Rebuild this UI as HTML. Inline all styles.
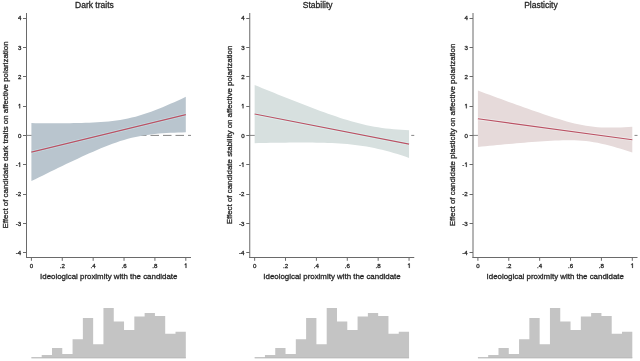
<!DOCTYPE html>
<html><head><meta charset="utf-8"><style>
html,body{margin:0;padding:0;background:#fff;width:640px;height:361px;overflow:hidden}
svg text{font-family:"Liberation Sans",sans-serif;stroke:#2a2a2a;stroke-width:0.3px}
svg{filter:blur(0.35px)}
</style></head><body>
<svg width="640" height="361" viewBox="0 0 640 361" style="position:absolute;left:0;top:0">
<g transform="translate(0.00,0)">
<line x1="26.5" y1="135.4" x2="191" y2="135.4" stroke="#707070" stroke-width="0.85" stroke-dasharray="8.5 4" stroke-dashoffset="1"/>
<path d="M31.40,123.10 L35.26,123.13 L39.12,123.17 L42.98,123.20 L46.84,123.22 L50.70,123.24 L54.56,123.24 L58.42,123.24 L62.28,123.23 L66.14,123.21 L70.00,123.17 L73.86,123.12 L77.72,123.05 L81.58,122.96 L85.44,122.85 L89.30,122.72 L93.16,122.55 L97.02,122.34 L100.88,122.10 L104.74,121.80 L108.60,121.45 L112.46,121.03 L116.32,120.53 L120.18,119.95 L124.04,119.28 L127.90,118.50 L131.76,117.62 L135.62,116.64 L139.48,115.54 L143.34,114.34 L147.20,113.05 L151.06,111.68 L154.92,110.23 L158.78,108.71 L162.64,107.13 L166.50,105.51 L170.36,103.84 L174.22,102.13 L178.08,100.40 L181.94,98.63 L185.80,96.85 L185.80,132.35 L181.94,132.44 L178.08,132.55 L174.22,132.69 L170.36,132.86 L166.50,133.06 L162.64,133.31 L158.78,133.61 L154.92,133.97 L151.06,134.39 L147.20,134.89 L143.34,135.48 L139.48,136.16 L135.62,136.94 L131.76,137.82 L127.90,138.82 L124.04,139.92 L120.18,141.12 L116.32,142.41 L112.46,143.79 L108.60,145.25 L104.74,146.77 L100.88,148.35 L97.02,149.98 L93.16,151.65 L89.30,153.36 L85.44,155.10 L81.58,156.86 L77.72,158.65 L73.86,160.45 L70.00,162.28 L66.14,164.12 L62.28,165.97 L58.42,167.83 L54.56,169.71 L50.70,171.59 L46.84,173.48 L42.98,175.38 L39.12,177.28 L35.26,179.19 L31.40,181.11Z" fill="#b9c5ce"/>
<line x1="31.40" y1="152.10" x2="185.80" y2="114.60" stroke="#c3dbe2" stroke-width="2.8"/>
<line x1="31.40" y1="152.10" x2="185.80" y2="114.60" stroke="#bb5264" stroke-width="1.1"/>
<line x1="26.5" y1="13" x2="26.5" y2="258.0" stroke="#6a6a6a" stroke-width="1"/>
<line x1="26.0" y1="257.5" x2="191" y2="257.5" stroke="#6a6a6a" stroke-width="1"/>
<line x1="23.0" y1="252.50" x2="26.5" y2="252.50" stroke="#6a6a6a" stroke-width="1"/>
<text x="21.30" y="254.80" text-anchor="end" font-size="6.15" fill="#222222">-4</text>
<line x1="23.0" y1="223.50" x2="26.5" y2="223.50" stroke="#6a6a6a" stroke-width="1"/>
<text x="21.30" y="225.50" text-anchor="end" font-size="6.15" fill="#222222">-3</text>
<line x1="23.0" y1="194.50" x2="26.5" y2="194.50" stroke="#6a6a6a" stroke-width="1"/>
<text x="21.30" y="196.20" text-anchor="end" font-size="6.15" fill="#222222">-2</text>
<line x1="23.0" y1="164.50" x2="26.5" y2="164.50" stroke="#6a6a6a" stroke-width="1"/>
<path d="M19.45,162.50 L20.13,162.50 L20.13,166.90 L19.45,166.90Z M19.45,162.50 L18.50,163.54 L18.50,164.10 L19.45,163.42Z" fill="#222222" stroke="#222222" stroke-width="0.25"/>
<text x="17.88" y="166.90" text-anchor="end" font-size="6.15" fill="#222222">-</text>
<line x1="23.0" y1="135.50" x2="26.5" y2="135.50" stroke="#6a6a6a" stroke-width="1"/>
<text x="21.30" y="137.60" text-anchor="end" font-size="6.15" fill="#222222">0</text>
<line x1="23.0" y1="106.50" x2="26.5" y2="106.50" stroke="#6a6a6a" stroke-width="1"/>
<path d="M19.45,103.90 L20.13,103.90 L20.13,108.30 L19.45,108.30Z M19.45,103.90 L18.50,104.94 L18.50,105.50 L19.45,104.82Z" fill="#222222" stroke="#222222" stroke-width="0.25"/>
<line x1="23.0" y1="76.50" x2="26.5" y2="76.50" stroke="#6a6a6a" stroke-width="1"/>
<text x="21.30" y="79.00" text-anchor="end" font-size="6.15" fill="#222222">2</text>
<line x1="23.0" y1="47.50" x2="26.5" y2="47.50" stroke="#6a6a6a" stroke-width="1"/>
<text x="21.30" y="49.70" text-anchor="end" font-size="6.15" fill="#222222">3</text>
<line x1="23.0" y1="18.50" x2="26.5" y2="18.50" stroke="#6a6a6a" stroke-width="1"/>
<text x="21.30" y="20.40" text-anchor="end" font-size="6.15" fill="#222222">4</text>
<line x1="31.40" y1="257.5" x2="31.40" y2="260.8" stroke="#6a6a6a" stroke-width="1"/>
<text x="31.40" y="267.90" text-anchor="middle" font-size="6.15" fill="#222222">0</text>
<line x1="62.28" y1="257.5" x2="62.28" y2="260.8" stroke="#6a6a6a" stroke-width="1"/>
<text x="62.28" y="267.90" text-anchor="middle" font-size="6.15" fill="#222222">.2</text>
<line x1="93.16" y1="257.5" x2="93.16" y2="260.8" stroke="#6a6a6a" stroke-width="1"/>
<text x="93.16" y="267.90" text-anchor="middle" font-size="6.15" fill="#222222">.4</text>
<line x1="124.04" y1="257.5" x2="124.04" y2="260.8" stroke="#6a6a6a" stroke-width="1"/>
<text x="124.04" y="267.90" text-anchor="middle" font-size="6.15" fill="#222222">.6</text>
<line x1="154.92" y1="257.5" x2="154.92" y2="260.8" stroke="#6a6a6a" stroke-width="1"/>
<text x="154.92" y="267.90" text-anchor="middle" font-size="6.15" fill="#222222">.8</text>
<line x1="185.80" y1="257.5" x2="185.80" y2="260.8" stroke="#6a6a6a" stroke-width="1"/>
<path d="M185.66,263.50 L186.34,263.50 L186.34,267.90 L185.66,267.90Z M185.66,263.50 L184.71,264.54 L184.71,265.10 L185.66,264.42Z" fill="#222222" stroke="#222222" stroke-width="0.25"/>
<text x="94.4" y="8.3" text-anchor="middle" font-size="8.5" fill="#222222">Dark traits</text>
<text x="108.75" y="278.8" text-anchor="middle" font-size="7.9" fill="#222222">Ideological proximity with the candidate</text>
<text transform="translate(8.3,134.95) rotate(-90)" x="0" y="0" text-anchor="middle" font-size="7.9" fill="#222222">Effect of candidate dark traits on affective polarization</text>
<path d="M31.40,358.3 L31.40,357.70 L41.69,357.70 L41.69,355.00 L51.99,355.00 L51.99,348.10 L62.28,348.10 L62.28,354.00 L72.57,354.00 L72.57,339.20 L82.87,339.20 L82.87,317.90 L93.16,317.90 L93.16,344.30 L103.45,344.30 L103.45,307.90 L113.75,307.90 L113.75,321.40 L124.04,321.40 L124.04,330.00 L134.33,330.00 L134.33,316.40 L144.63,316.40 L144.63,313.00 L154.92,313.00 L154.92,316.00 L165.21,316.00 L165.21,333.80 L175.51,333.80 L175.51,331.70 L185.80,331.70 L185.80,358.3Z" fill="#c4c4c4"/>
<line x1="31.40" y1="357.7" x2="185.80" y2="357.7" stroke="#bbbbbb" stroke-width="1"/>
</g>
<g transform="translate(223.25,0)">
<line x1="26.5" y1="135.4" x2="191" y2="135.4" stroke="#707070" stroke-width="0.85" stroke-dasharray="8.5 4" stroke-dashoffset="1"/>
<path d="M31.40,85.00 L35.26,86.59 L39.12,88.16 L42.98,89.74 L46.84,91.31 L50.70,92.87 L54.56,94.43 L58.42,95.98 L62.28,97.52 L66.14,99.06 L70.00,100.58 L73.86,102.10 L77.72,103.61 L81.58,105.10 L85.44,106.58 L89.30,108.04 L93.16,109.49 L97.02,110.92 L100.88,112.32 L104.74,113.70 L108.60,115.05 L112.46,116.37 L116.32,117.64 L120.18,118.88 L124.04,120.07 L127.90,121.21 L131.76,122.29 L135.62,123.30 L139.48,124.25 L143.34,125.13 L147.20,125.93 L151.06,126.66 L154.92,127.32 L158.78,127.90 L162.64,128.41 L166.50,128.86 L170.36,129.24 L174.22,129.57 L178.08,129.86 L181.94,130.10 L185.80,130.30 L185.80,157.91 L181.94,156.61 L178.08,155.34 L174.22,154.12 L170.36,152.96 L166.50,151.84 L162.64,150.79 L158.78,149.80 L154.92,148.88 L151.06,148.03 L147.20,147.25 L143.34,146.56 L139.48,145.93 L135.62,145.38 L131.76,144.89 L127.90,144.47 L124.04,144.11 L120.18,143.80 L116.32,143.53 L112.46,143.31 L108.60,143.12 L104.74,142.97 L100.88,142.85 L97.02,142.75 L93.16,142.67 L89.30,142.62 L85.44,142.58 L81.58,142.56 L77.72,142.55 L73.86,142.56 L70.00,142.57 L66.14,142.60 L62.28,142.63 L58.42,142.67 L54.56,142.72 L50.70,142.78 L46.84,142.84 L42.98,142.91 L39.12,142.98 L35.26,143.05 L31.40,143.13Z" fill="#d7e0df"/>
<line x1="31.40" y1="114.07" x2="185.80" y2="144.10" stroke="#dcefee" stroke-width="2.8"/>
<line x1="31.40" y1="114.07" x2="185.80" y2="144.10" stroke="#bb5264" stroke-width="1.1"/>
<line x1="26.5" y1="13" x2="26.5" y2="258.0" stroke="#6a6a6a" stroke-width="1"/>
<line x1="26.0" y1="257.5" x2="191" y2="257.5" stroke="#6a6a6a" stroke-width="1"/>
<line x1="23.0" y1="252.50" x2="26.5" y2="252.50" stroke="#6a6a6a" stroke-width="1"/>
<text x="21.30" y="254.80" text-anchor="end" font-size="6.15" fill="#222222">-4</text>
<line x1="23.0" y1="223.50" x2="26.5" y2="223.50" stroke="#6a6a6a" stroke-width="1"/>
<text x="21.30" y="225.50" text-anchor="end" font-size="6.15" fill="#222222">-3</text>
<line x1="23.0" y1="194.50" x2="26.5" y2="194.50" stroke="#6a6a6a" stroke-width="1"/>
<text x="21.30" y="196.20" text-anchor="end" font-size="6.15" fill="#222222">-2</text>
<line x1="23.0" y1="164.50" x2="26.5" y2="164.50" stroke="#6a6a6a" stroke-width="1"/>
<path d="M19.45,162.50 L20.13,162.50 L20.13,166.90 L19.45,166.90Z M19.45,162.50 L18.50,163.54 L18.50,164.10 L19.45,163.42Z" fill="#222222" stroke="#222222" stroke-width="0.25"/>
<text x="17.88" y="166.90" text-anchor="end" font-size="6.15" fill="#222222">-</text>
<line x1="23.0" y1="135.50" x2="26.5" y2="135.50" stroke="#6a6a6a" stroke-width="1"/>
<text x="21.30" y="137.60" text-anchor="end" font-size="6.15" fill="#222222">0</text>
<line x1="23.0" y1="106.50" x2="26.5" y2="106.50" stroke="#6a6a6a" stroke-width="1"/>
<path d="M19.45,103.90 L20.13,103.90 L20.13,108.30 L19.45,108.30Z M19.45,103.90 L18.50,104.94 L18.50,105.50 L19.45,104.82Z" fill="#222222" stroke="#222222" stroke-width="0.25"/>
<line x1="23.0" y1="76.50" x2="26.5" y2="76.50" stroke="#6a6a6a" stroke-width="1"/>
<text x="21.30" y="79.00" text-anchor="end" font-size="6.15" fill="#222222">2</text>
<line x1="23.0" y1="47.50" x2="26.5" y2="47.50" stroke="#6a6a6a" stroke-width="1"/>
<text x="21.30" y="49.70" text-anchor="end" font-size="6.15" fill="#222222">3</text>
<line x1="23.0" y1="18.50" x2="26.5" y2="18.50" stroke="#6a6a6a" stroke-width="1"/>
<text x="21.30" y="20.40" text-anchor="end" font-size="6.15" fill="#222222">4</text>
<line x1="31.40" y1="257.5" x2="31.40" y2="260.8" stroke="#6a6a6a" stroke-width="1"/>
<text x="31.40" y="267.90" text-anchor="middle" font-size="6.15" fill="#222222">0</text>
<line x1="62.28" y1="257.5" x2="62.28" y2="260.8" stroke="#6a6a6a" stroke-width="1"/>
<text x="62.28" y="267.90" text-anchor="middle" font-size="6.15" fill="#222222">.2</text>
<line x1="93.16" y1="257.5" x2="93.16" y2="260.8" stroke="#6a6a6a" stroke-width="1"/>
<text x="93.16" y="267.90" text-anchor="middle" font-size="6.15" fill="#222222">.4</text>
<line x1="124.04" y1="257.5" x2="124.04" y2="260.8" stroke="#6a6a6a" stroke-width="1"/>
<text x="124.04" y="267.90" text-anchor="middle" font-size="6.15" fill="#222222">.6</text>
<line x1="154.92" y1="257.5" x2="154.92" y2="260.8" stroke="#6a6a6a" stroke-width="1"/>
<text x="154.92" y="267.90" text-anchor="middle" font-size="6.15" fill="#222222">.8</text>
<line x1="185.80" y1="257.5" x2="185.80" y2="260.8" stroke="#6a6a6a" stroke-width="1"/>
<path d="M185.66,263.50 L186.34,263.50 L186.34,267.90 L185.66,267.90Z M185.66,263.50 L184.71,264.54 L184.71,265.10 L185.66,264.42Z" fill="#222222" stroke="#222222" stroke-width="0.25"/>
<text x="94.4" y="8.3" text-anchor="middle" font-size="8.5" fill="#222222">Stability</text>
<text x="108.75" y="278.8" text-anchor="middle" font-size="7.9" fill="#222222">Ideological proximity with the candidate</text>
<text transform="translate(8.3,134.95) rotate(-90)" x="0" y="0" text-anchor="middle" font-size="7.9" fill="#222222">Effect of candidate stability on affective polarization</text>
<path d="M31.40,358.3 L31.40,357.70 L41.69,357.70 L41.69,355.00 L51.99,355.00 L51.99,348.10 L62.28,348.10 L62.28,354.00 L72.57,354.00 L72.57,339.20 L82.87,339.20 L82.87,317.90 L93.16,317.90 L93.16,344.30 L103.45,344.30 L103.45,307.90 L113.75,307.90 L113.75,321.40 L124.04,321.40 L124.04,330.00 L134.33,330.00 L134.33,316.40 L144.63,316.40 L144.63,313.00 L154.92,313.00 L154.92,316.00 L165.21,316.00 L165.21,333.80 L175.51,333.80 L175.51,331.70 L185.80,331.70 L185.80,358.3Z" fill="#c4c4c4"/>
<line x1="31.40" y1="357.7" x2="185.80" y2="357.7" stroke="#bbbbbb" stroke-width="1"/>
</g>
<g transform="translate(446.50,0)">
<line x1="26.5" y1="135.4" x2="191" y2="135.4" stroke="#707070" stroke-width="0.85" stroke-dasharray="8.5 4" stroke-dashoffset="1"/>
<path d="M31.40,90.58 L35.26,92.00 L39.12,93.43 L42.98,94.85 L46.84,96.26 L50.70,97.68 L54.56,99.09 L58.42,100.50 L62.28,101.90 L66.14,103.29 L70.00,104.68 L73.86,106.06 L77.72,107.44 L81.58,108.80 L85.44,110.16 L89.30,111.50 L93.16,112.83 L97.02,114.13 L100.88,115.42 L104.74,116.69 L108.60,117.92 L112.46,119.12 L116.32,120.28 L120.18,121.39 L124.04,122.43 L127.90,123.40 L131.76,124.29 L135.62,125.08 L139.48,125.77 L143.34,126.34 L147.20,126.80 L151.06,127.15 L154.92,127.39 L158.78,127.53 L162.64,127.60 L166.50,127.59 L170.36,127.52 L174.22,127.41 L178.08,127.25 L181.94,127.06 L185.80,126.84 L185.80,152.58 L181.94,151.31 L178.08,150.07 L174.22,148.87 L170.36,147.70 L166.50,146.59 L162.64,145.53 L158.78,144.55 L154.92,143.65 L151.06,142.84 L147.20,142.14 L143.34,141.55 L139.48,141.07 L135.62,140.71 L131.76,140.46 L127.90,140.30 L124.04,140.22 L120.18,140.22 L116.32,140.28 L112.46,140.39 L108.60,140.54 L104.74,140.73 L100.88,140.95 L97.02,141.19 L93.16,141.45 L89.30,141.73 L85.44,142.02 L81.58,142.33 L77.72,142.65 L73.86,142.97 L70.00,143.31 L66.14,143.65 L62.28,144.00 L58.42,144.35 L54.56,144.71 L50.70,145.07 L46.84,145.44 L42.98,145.81 L39.12,146.18 L35.26,146.56 L31.40,146.94Z" fill="#e6dada"/>
<line x1="31.40" y1="118.76" x2="185.80" y2="139.71" stroke="#eeeaea" stroke-width="2.8"/>
<line x1="31.40" y1="118.76" x2="185.80" y2="139.71" stroke="#bb5264" stroke-width="1.1"/>
<line x1="26.5" y1="13" x2="26.5" y2="258.0" stroke="#6a6a6a" stroke-width="1"/>
<line x1="26.0" y1="257.5" x2="191" y2="257.5" stroke="#6a6a6a" stroke-width="1"/>
<line x1="23.0" y1="252.50" x2="26.5" y2="252.50" stroke="#6a6a6a" stroke-width="1"/>
<text x="21.30" y="254.80" text-anchor="end" font-size="6.15" fill="#222222">-4</text>
<line x1="23.0" y1="223.50" x2="26.5" y2="223.50" stroke="#6a6a6a" stroke-width="1"/>
<text x="21.30" y="225.50" text-anchor="end" font-size="6.15" fill="#222222">-3</text>
<line x1="23.0" y1="194.50" x2="26.5" y2="194.50" stroke="#6a6a6a" stroke-width="1"/>
<text x="21.30" y="196.20" text-anchor="end" font-size="6.15" fill="#222222">-2</text>
<line x1="23.0" y1="164.50" x2="26.5" y2="164.50" stroke="#6a6a6a" stroke-width="1"/>
<path d="M19.45,162.50 L20.13,162.50 L20.13,166.90 L19.45,166.90Z M19.45,162.50 L18.50,163.54 L18.50,164.10 L19.45,163.42Z" fill="#222222" stroke="#222222" stroke-width="0.25"/>
<text x="17.88" y="166.90" text-anchor="end" font-size="6.15" fill="#222222">-</text>
<line x1="23.0" y1="135.50" x2="26.5" y2="135.50" stroke="#6a6a6a" stroke-width="1"/>
<text x="21.30" y="137.60" text-anchor="end" font-size="6.15" fill="#222222">0</text>
<line x1="23.0" y1="106.50" x2="26.5" y2="106.50" stroke="#6a6a6a" stroke-width="1"/>
<path d="M19.45,103.90 L20.13,103.90 L20.13,108.30 L19.45,108.30Z M19.45,103.90 L18.50,104.94 L18.50,105.50 L19.45,104.82Z" fill="#222222" stroke="#222222" stroke-width="0.25"/>
<line x1="23.0" y1="76.50" x2="26.5" y2="76.50" stroke="#6a6a6a" stroke-width="1"/>
<text x="21.30" y="79.00" text-anchor="end" font-size="6.15" fill="#222222">2</text>
<line x1="23.0" y1="47.50" x2="26.5" y2="47.50" stroke="#6a6a6a" stroke-width="1"/>
<text x="21.30" y="49.70" text-anchor="end" font-size="6.15" fill="#222222">3</text>
<line x1="23.0" y1="18.50" x2="26.5" y2="18.50" stroke="#6a6a6a" stroke-width="1"/>
<text x="21.30" y="20.40" text-anchor="end" font-size="6.15" fill="#222222">4</text>
<line x1="31.40" y1="257.5" x2="31.40" y2="260.8" stroke="#6a6a6a" stroke-width="1"/>
<text x="31.40" y="267.90" text-anchor="middle" font-size="6.15" fill="#222222">0</text>
<line x1="62.28" y1="257.5" x2="62.28" y2="260.8" stroke="#6a6a6a" stroke-width="1"/>
<text x="62.28" y="267.90" text-anchor="middle" font-size="6.15" fill="#222222">.2</text>
<line x1="93.16" y1="257.5" x2="93.16" y2="260.8" stroke="#6a6a6a" stroke-width="1"/>
<text x="93.16" y="267.90" text-anchor="middle" font-size="6.15" fill="#222222">.4</text>
<line x1="124.04" y1="257.5" x2="124.04" y2="260.8" stroke="#6a6a6a" stroke-width="1"/>
<text x="124.04" y="267.90" text-anchor="middle" font-size="6.15" fill="#222222">.6</text>
<line x1="154.92" y1="257.5" x2="154.92" y2="260.8" stroke="#6a6a6a" stroke-width="1"/>
<text x="154.92" y="267.90" text-anchor="middle" font-size="6.15" fill="#222222">.8</text>
<line x1="185.80" y1="257.5" x2="185.80" y2="260.8" stroke="#6a6a6a" stroke-width="1"/>
<path d="M185.66,263.50 L186.34,263.50 L186.34,267.90 L185.66,267.90Z M185.66,263.50 L184.71,264.54 L184.71,265.10 L185.66,264.42Z" fill="#222222" stroke="#222222" stroke-width="0.25"/>
<text x="94.4" y="8.3" text-anchor="middle" font-size="8.5" fill="#222222">Plasticity</text>
<text x="108.75" y="278.8" text-anchor="middle" font-size="7.9" fill="#222222">Ideological proximity with the candidate</text>
<text transform="translate(8.3,134.95) rotate(-90)" x="0" y="0" text-anchor="middle" font-size="7.9" fill="#222222">Effect of candidate plasticity on affective polarization</text>
<path d="M31.40,358.3 L31.40,357.70 L41.69,357.70 L41.69,355.00 L51.99,355.00 L51.99,348.10 L62.28,348.10 L62.28,354.00 L72.57,354.00 L72.57,339.20 L82.87,339.20 L82.87,317.90 L93.16,317.90 L93.16,344.30 L103.45,344.30 L103.45,307.90 L113.75,307.90 L113.75,321.40 L124.04,321.40 L124.04,330.00 L134.33,330.00 L134.33,316.40 L144.63,316.40 L144.63,313.00 L154.92,313.00 L154.92,316.00 L165.21,316.00 L165.21,333.80 L175.51,333.80 L175.51,331.70 L185.80,331.70 L185.80,358.3Z" fill="#c4c4c4"/>
<line x1="31.40" y1="357.7" x2="185.80" y2="357.7" stroke="#bbbbbb" stroke-width="1"/>
</g>
</svg>
</body></html>
